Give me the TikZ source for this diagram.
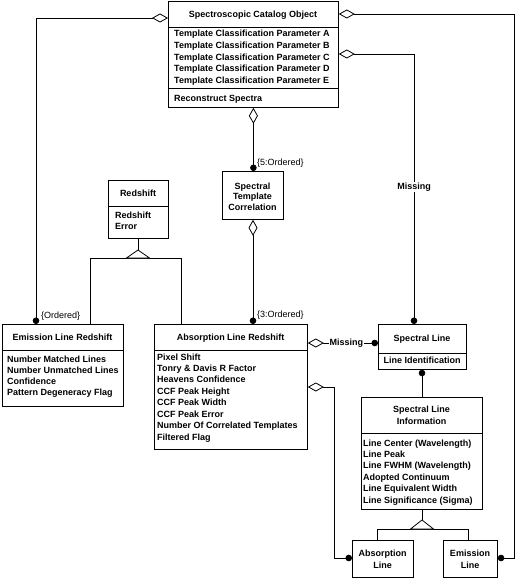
\documentclass[tikz,border=0pt]{standalone}
\usepackage{fontspec}
\setmainfont{Liberation Sans}
\usetikzlibrary{arrows.meta}
\tikzset{
  cls/.style={draw, line width=0.8pt, inner sep=0pt, anchor=north west},
  ttl/.style={font=\fontsize{9}{11}\selectfont\bfseries, inner sep=0pt, anchor=base},
  att/.style={font=\fontsize{9}{11}\selectfont\bfseries, inner sep=0pt, anchor=base west},
  lbl/.style={font=\fontsize{9}{11}\selectfont, inner sep=0pt, anchor=base west},
  misslbl/.style={font=\fontsize{9}{11}\selectfont\bfseries, inner sep=1pt, fill=white},
  sepline/.style={line width=0.8pt},
  conn/.style={line width=0.8pt},
  aggdot/.style={conn, {Diamond[open,length=16pt,width=9pt,line width=0.8pt]}-{Circle[length=6.5pt]}},
  dotend/.style={conn, -{Circle[length=6.5pt]}},
  inhtri/.style={line width=0.8pt, fill=white},
}
\newcommand\attlines[5]{% name, x, first baseline, step, list
  \foreach \t [count=\i from 0] in {#5} {\node[att] (#1-\i) at (#2, #3+#4*\i) {\t};}}
\newcommand\ttllines[5]{% name, x, first baseline, step, list
  \foreach \t [count=\i from 0] in {#5} {\node[ttl] (#1-\i) at (#2, #3+#4*\i) {\t};}}
\begin{document}
\begin{tikzpicture}[x=1pt,y=-1pt]
\useasboundingbox (0,0) rectangle (515,578);

% ---------- class boxes ----------
\node[cls, minimum width=170pt, minimum height=106pt] (sco) at (168,1) {};
\draw[sepline] (sco.west |- 0,27) -- (sco.east |- 0,27);
\draw[sepline] (sco.west |- 0,88) -- (sco.east |- 0,88);
\ttllines{scot}{253}{17.5}{11}{Spectroscopic Catalog Object}
\attlines{scoa}{174}{37}{11.5}{Template Classification Parameter A,Template Classification Parameter B,Template Classification Parameter C,Template Classification Parameter D,Template Classification Parameter E}
\attlines{scob}{174}{101}{11.5}{Reconstruct Spectra}

\node[cls, minimum width=61pt, minimum height=48pt] (stc) at (222,171) {};
\ttllines{stct}{252.5}{189}{10.7}{Spectral,Template,Correlation}

\node[cls, minimum width=60pt, minimum height=58pt] (rs) at (108,180) {};
\draw[sepline] (rs.west |- 0,206) -- (rs.east |- 0,206);
\ttllines{rst}{138}{196}{11}{Redshift}
\attlines{rsa}{115}{218}{11.5}{Redshift,Error}

\node[cls, minimum width=121pt, minimum height=82pt] (elr) at (2,324) {};
\draw[sepline] (elr.west |- 0,350) -- (elr.east |- 0,350);
\ttllines{elrt}{62.5}{340}{11}{Emission Line Redshift}
\attlines{elra}{7}{362}{11}{Number Matched Lines,Number Unmatched Lines,Confidence,Pattern Degeneracy Flag}

\node[cls, minimum width=153pt, minimum height=125pt] (alr) at (154,324) {};
\draw[sepline] (alr.west |- 0,350) -- (alr.east |- 0,350);
\ttllines{alrt}{230.5}{340}{11}{Absorption Line Redshift}
\attlines{alra}{157}{360}{11.45}{Pixel Shift,Tonry \& Davis R Factor,Heavens Confidence,CCF Peak Height,CCF Peak Width,CCF Peak Error,Number Of Correlated Templates,Filtered Flag}

\node[cls, minimum width=88pt, minimum height=45pt] (sl) at (378,324) {};
\draw[sepline] (sl.west |- 0,353) -- (sl.east |- 0,353);
\ttllines{slt}{422}{341}{11}{Spectral Line}
\ttllines{sla}{422}{363}{11}{Line Identification}

\node[cls, minimum width=121pt, minimum height=112pt] (sli) at (361,397) {};
\draw[sepline] (sli.west |- 0,433) -- (sli.east |- 0,433);
\ttllines{slit}{421.5}{412}{12}{Spectral Line,Information}
\attlines{slia}{363}{446}{11.4}{Line Center (Wavelength),Line Peak,Line FWHM (Wavelength),Adopted Continuum,Line Equivalent Width,Line Significance (Sigma)}

\node[cls, minimum width=61pt, minimum height=37pt] (al) at (352,540) {};
\ttllines{alt}{382.5}{556}{12}{Absorption,Line}

\node[cls, minimum width=54pt, minimum height=37pt] (el) at (443,540) {};
\ttllines{elt}{470}{556}{12}{Emission,Line}

% ---------- aggregations ----------
\draw[aggdot] (sco.west |- 0,18) -| (elr.north -| 36,0);
\node[lbl] (ordlbl) at (41,318) {\{Ordered\}};

\draw[aggdot] (sco.east |- 0,14) -- (514,14) |- (el.east |- 0,558);

\draw[aggdot] (sco.east |- 0,54) -| (sl.north -| 414,0);
\node[misslbl] (miss1) at (414,187) {Missing};

\draw[aggdot] (sco.south) -- (sco.south |- stc.north);
\node[lbl] (ord5) at (257,165) {\{5:Ordered\}};

\draw[aggdot] (stc.south -| 253,0) -- (alr.north -| 253,0);
\node[lbl] (ord3) at (257,317) {\{3:Ordered\}};

\draw[aggdot] (alr.east |- 0,343) -- (sl.west |- 0,343)
  node[misslbl, pos=0.55] (miss2) {Missing};

\draw[aggdot] (alr.east |- 0,387) -- (334,387) |- (al.west |- 0,558);

\draw[dotend] (sli.north -| 422,0) -- (sl.south -| 422,0);

% ---------- generalizations ----------
\coordinate (rsapex) at (138,250);
\draw[conn] (rs.south -| rsapex) -- (rsapex);
\draw[conn] (elr.north -| 90,0) |- (181,258) -- (alr.north -| 181,0);
\draw[inhtri] (rsapex) -- (126.5,258) -- (149.5,258) -- cycle;

\coordinate (sliapex) at (422,520);
\draw[conn] (sli.south -| sliapex) -- (sliapex);
\draw[conn] (al.north -| 377,0) |- (468,529) -- (el.north -| 468,0);
\draw[inhtri] (sliapex) -- (410.5,529) -- (433.5,529) -- cycle;
\end{tikzpicture}
\end{document}
